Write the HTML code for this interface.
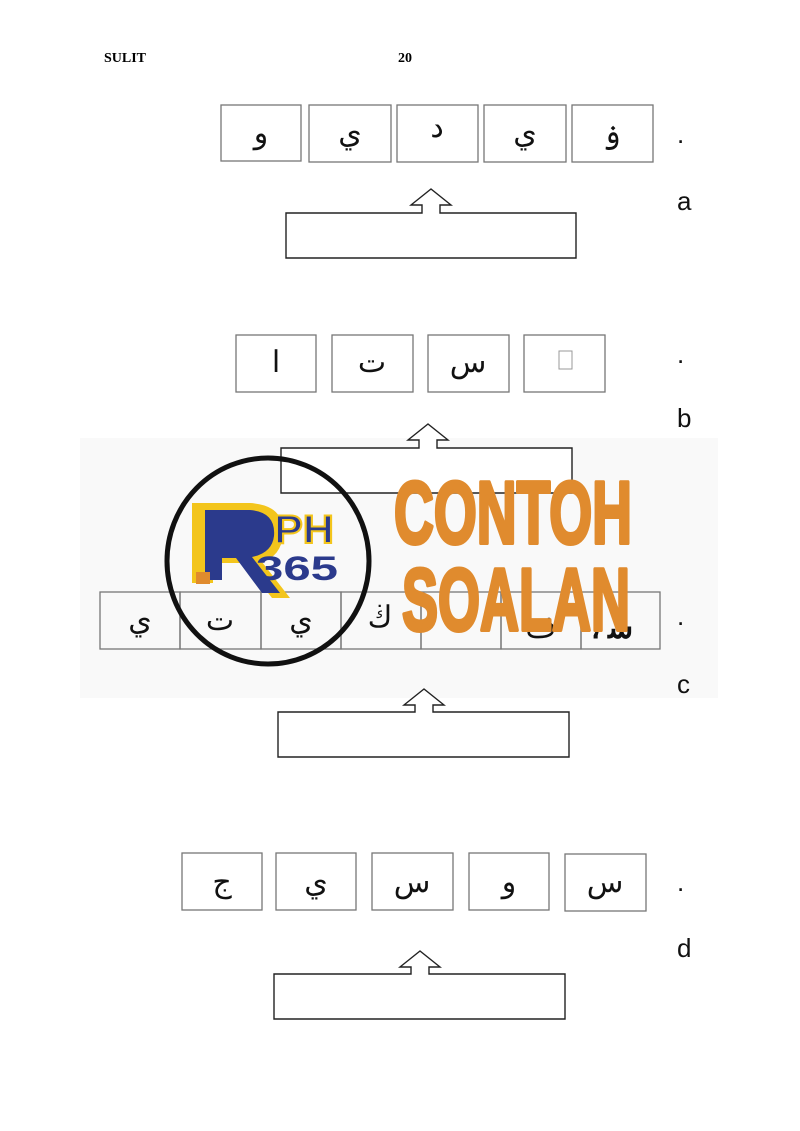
<!DOCTYPE html>
<html><head><meta charset="utf-8"><style>
html,body{margin:0;padding:0;background:#fff;}
svg{display:block;}
.ar{font-family:"Liberation Serif","DejaVu Serif",serif;font-size:30px;text-anchor:middle;fill:#111;}
.lbl{font-family:"Liberation Sans",sans-serif;font-size:26px;fill:#111;}
</style></head><body>
<svg width="800" height="1131" viewBox="0 0 800 1131" xmlns="http://www.w3.org/2000/svg">
<rect width="800" height="1131" fill="#fff"/>
<rect x="80" y="438" width="638" height="260" fill="#f9f9f9"/>
<text x="104" y="62" font-family="Liberation Serif,serif" font-weight="bold" font-size="14">SULIT</text>
<text x="398" y="62" font-family="Liberation Serif,serif" font-weight="bold" font-size="14">20</text>
<g fill="none" stroke="#777" stroke-width="1.3">
<rect x="221" y="105" width="80" height="56"/><rect x="309" y="105" width="82" height="57"/><rect x="397" y="105" width="81" height="57"/><rect x="484" y="105" width="82" height="57"/><rect x="572" y="105" width="81" height="57"/>
<rect x="236" y="335" width="80" height="57"/><rect x="332" y="335" width="81" height="57"/><rect x="428" y="335" width="81" height="57"/><rect x="524" y="335" width="81" height="57"/>
<rect x="100" y="592" width="80" height="57"/><rect x="180" y="592" width="81" height="57"/><rect x="261" y="592" width="80" height="57"/><rect x="341" y="592" width="80" height="57"/><rect x="421" y="592" width="80" height="57"/><rect x="501" y="592" width="80" height="57"/><rect x="581" y="592" width="79" height="57"/>
<rect x="182" y="853" width="80" height="57"/><rect x="276" y="853" width="80" height="57"/><rect x="372" y="853" width="81" height="57"/><rect x="469" y="853" width="80" height="57"/><rect x="565" y="854" width="81" height="57"/>
</g>
<rect x="559" y="351" width="13" height="18" fill="none" stroke="#999" stroke-width="1"/>
<g fill="#fff" stroke="#222" stroke-width="1.4">
<path d="M286,213 L422,213 L422,205 L411,205 L431,189 L451,205 L440,205 L440,213 L576,213 L576,258 L286,258 Z"/>
<path d="M281,448 L419,448 L419,440 L408,440 L428,424 L448,440 L437,440 L437,448 L572,448 L572,493 L281,493 Z"/>
<path d="M278,712 L415,712 L415,705 L404,705 L424,689 L444,705 L433,705 L433,712 L569,712 L569,757 L278,757 Z"/>
<path d="M274,974 L411,974 L411,967 L400,967 L420,951 L440,967 L429,967 L429,974 L565,974 L565,1019 L274,1019 Z"/>
</g>
<g class="ar">
<text class="ar" x="261" y="143">و</text><text class="ar" x="350" y="143">ي</text><text class="ar" x="437" y="137">د</text><text class="ar" x="525" y="143">ي</text><text class="ar" x="612" y="143">ۏ</text>
<text class="ar" x="276" y="372">ا</text><text class="ar" x="372" y="372">ت</text><text class="ar" x="468" y="372">س</text>
<text class="ar" x="140" y="630">ي</text><text class="ar" x="220" y="630">ت</text><text class="ar" x="301" y="630">ي</text><text class="ar" x="380" y="627">ڬ</text><text class="ar" x="541" y="637">ف</text><text class="ar" x="612" y="638" font-weight="bold">، ﺳ</text>
<text class="ar" x="222" y="892">ج</text><text class="ar" x="316" y="892">ي</text><text class="ar" x="412" y="892">س</text><text class="ar" x="509" y="892">و</text><text class="ar" x="605" y="892">س</text>
</g>
<g class="lbl">
<text x="677" y="143" class="lbl">.</text><text x="677" y="210" class="lbl">a</text>
<text x="677" y="363" class="lbl">.</text><text x="677" y="427" class="lbl">b</text>
<text x="677" y="625" class="lbl">.</text><text x="677" y="693" class="lbl">c</text>
<text x="677" y="891" class="lbl">.</text><text x="677" y="957" class="lbl">d</text>
</g>
<ellipse cx="268" cy="561" rx="101" ry="103" fill="none" stroke="#111" stroke-width="5"/>
<g font-family="Liberation Sans,sans-serif" font-weight="bold" fill="#e08b2e" stroke="#e08b2e" stroke-width="4" stroke-linejoin="round">
<text x="394" y="543" font-size="88" textLength="238" lengthAdjust="spacingAndGlyphs">CONTOH</text>
<text x="402" y="630" font-size="88" textLength="228" lengthAdjust="spacingAndGlyphs">SOALAN</text>
</g>
<path d="M192,503 L250,503 Q285,505 283,535 Q281,556 262,562 L290,598 L272,598 L245,563 L213,563 L213,583 L192,583 Z" fill="#f3c51c"/>
<path d="M205,510 L250,510 Q276,512 274,536 Q272,553 252,557 L280,593 L262,593 L236,558 L222,558 L222,580 L205,580 Z" fill="#2b3a8c"/>
<rect x="196" y="572" width="14" height="12" fill="#e08b2e"/>
<g font-family="Liberation Sans,sans-serif" font-weight="bold">
<text x="274" y="543" font-size="40" fill="#2b3a8c" stroke="#f3c51c" stroke-width="2" textLength="60" lengthAdjust="spacingAndGlyphs">PH</text>
<text x="256" y="580" font-size="34" fill="#2b3a8c" textLength="82" lengthAdjust="spacingAndGlyphs">365</text>
</g>
</svg>
</body></html>
